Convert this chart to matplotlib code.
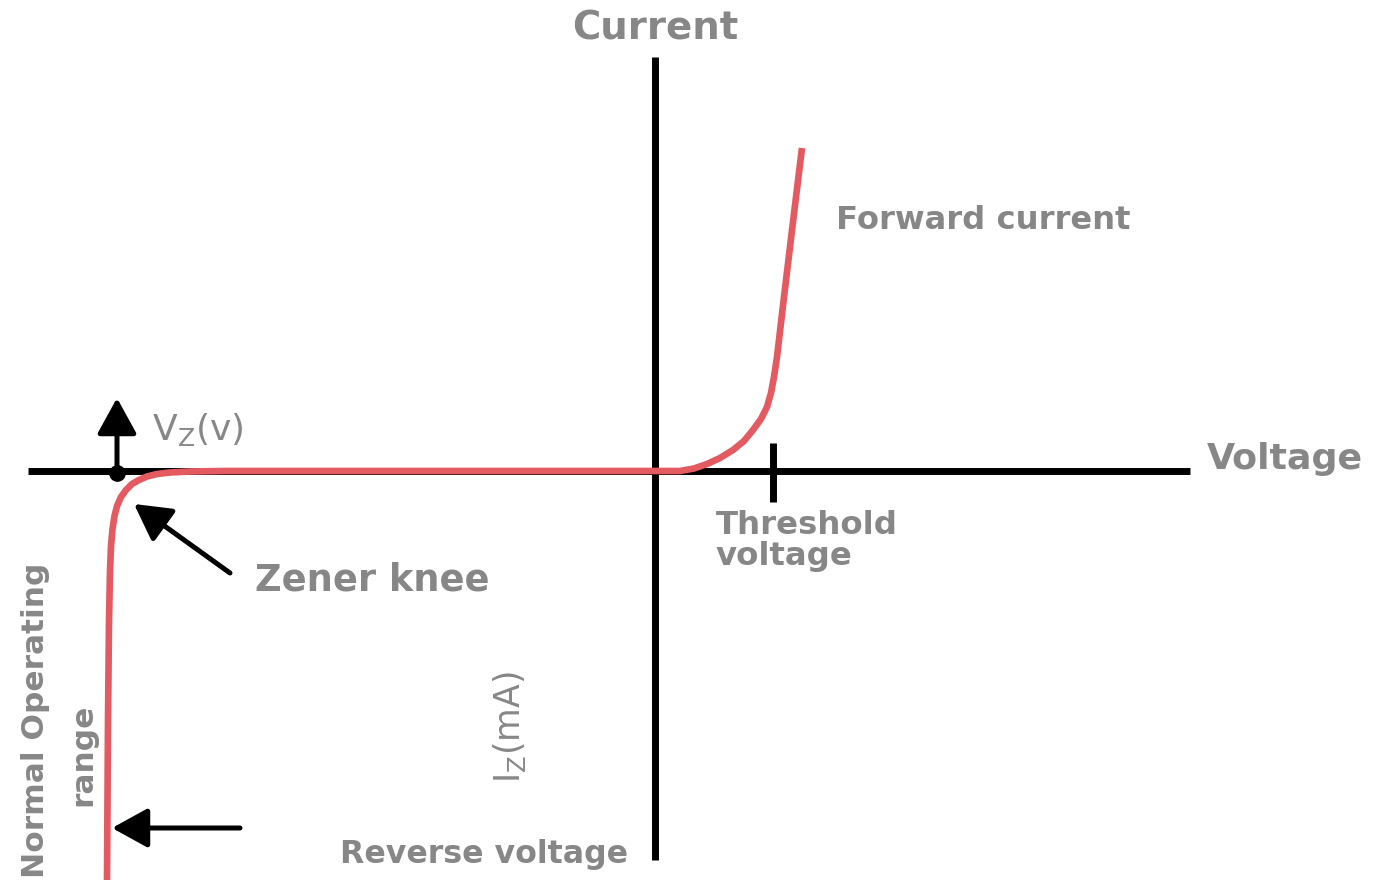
import matplotlib
matplotlib.use('Agg')
import matplotlib.pyplot as plt

# Zener diode I-V characteristic (1 unit = 100 px in the reference picture)
voltage = [-5.48, -5.47, -5.46, -5.45, -5.44, -5.425, -5.405, -5.38, -5.34, -5.29,
           -5.23, -5.16, -5.08, -4.98, -4.85, -4.65, -4.30, -2.0, 0.0, 0.25,
           0.39, 0.52, 0.65, 0.78, 0.89, 0.98, 1.06, 1.12, 1.16, 1.19,
           1.22, 1.29, 1.35, 1.41, 1.47]
current = [-4.09, -2.50, -1.50, -1.00, -0.75, -0.58, -0.45, -0.35, -0.26, -0.19,
           -0.13, -0.09, -0.055, -0.03, -0.015, -0.005, 0.0, 0.0, 0.0, 0.0,
           0.025, 0.07, 0.13, 0.21, 0.30, 0.41, 0.52, 0.64, 0.78, 0.94,
           1.14, 1.74, 2.24, 2.74, 3.23]

x_axis_span = (-6.27, 5.35)
y_axis_span = (-3.89, 4.14)
threshold_v = 1.18
zener_v = -5.38

red = '#e35a60'
grey = '#878787'
font = 'DejaVu Sans'

fig = plt.figure(figsize=(13.74, 8.85), dpi=100)
ax = fig.add_axes([0, 0, 1, 1])
ax.set_xlim(-6.55, 7.19)
ax.set_ylim(-4.14, 4.71)
ax.axis('off')

ax_lw = 5
ax.plot(x_axis_span, [0, 0], color='black', lw=ax_lw, solid_capstyle='butt', zorder=2)
ax.plot([0, 0], y_axis_span, color='black', lw=ax_lw, solid_capstyle='butt', zorder=2)
ax.plot([threshold_v, threshold_v], [-0.31, 0.28], color='black', lw=ax_lw,
        solid_capstyle='butt', zorder=2)

ax.plot(voltage, current, color=red, lw=4.8, solid_capstyle='butt',
        solid_joinstyle='round', zorder=3)

arrow = dict(arrowstyle='-|>,head_width=0.55,head_length=1.0', mutation_scale=22,
             color='black', lw=3.6, shrinkA=0, shrinkB=0)

# Vz marker
ax.plot([zener_v], [-0.02], 'o', color='black', ms=11, zorder=4)
ax.annotate('', xy=(zener_v, 0.73), xytext=(zener_v, -0.02), arrowprops=arrow, zorder=4)
ax.text(-5.03, 0.42, r'V$_\mathregular{Z}$(v)', fontsize=26, color=grey,
        family=font, ha='left', va='center')

# Zener knee arrow
ax.annotate('', xy=(-5.21, -0.33), xytext=(-4.25, -1.02), arrowprops=arrow, zorder=4)
ax.text(-4.00, -1.09, 'Zener knee', fontsize=26.5, color=grey, family=font,
        fontweight='bold', ha='left', va='center')

# Reverse voltage arrow
ax.annotate('', xy=(-5.43, -3.57), xytext=(-4.15, -3.57), arrowprops=arrow, zorder=4)
ax.text(-3.15, -3.83, 'Reverse voltage', fontsize=22.8, color=grey, family=font,
        fontweight='bold', ha='left', va='center')

ax.text(-6.20, -2.49, 'Normal Operating', fontsize=22.5, color=grey,
        family=font, fontweight='bold', rotation=90, ha='center', va='center')
ax.text(-5.72, -2.84, 'range', fontsize=22.5, color=grey,
        family=font, fontweight='bold', rotation=90, ha='center', va='center')

ax.text(-1.45, -2.56, r'I$_\mathregular{Z}$(mA)', fontsize=25, color=grey,
        family=font, rotation=90, ha='center', va='center')

ax.text(0.0, 4.43, 'Current', fontsize=27.8, color=grey, family=font,
        fontweight='bold', ha='center', va='center')
ax.text(6.30, 0.12, 'Voltage', fontsize=26.2, color=grey, family=font,
        fontweight='bold', ha='center', va='center')
ax.text(1.81, 2.51, 'Forward current', fontsize=23.2, color=grey, family=font,
        fontweight='bold', ha='left', va='center')
ax.text(0.61, -0.70, 'Threshold\nvoltage', fontsize=23.3, color=grey, family=font,
        fontweight='bold', ha='left', va='center', linespacing=0.98)

fig.savefig('out.png', dpi=100)
